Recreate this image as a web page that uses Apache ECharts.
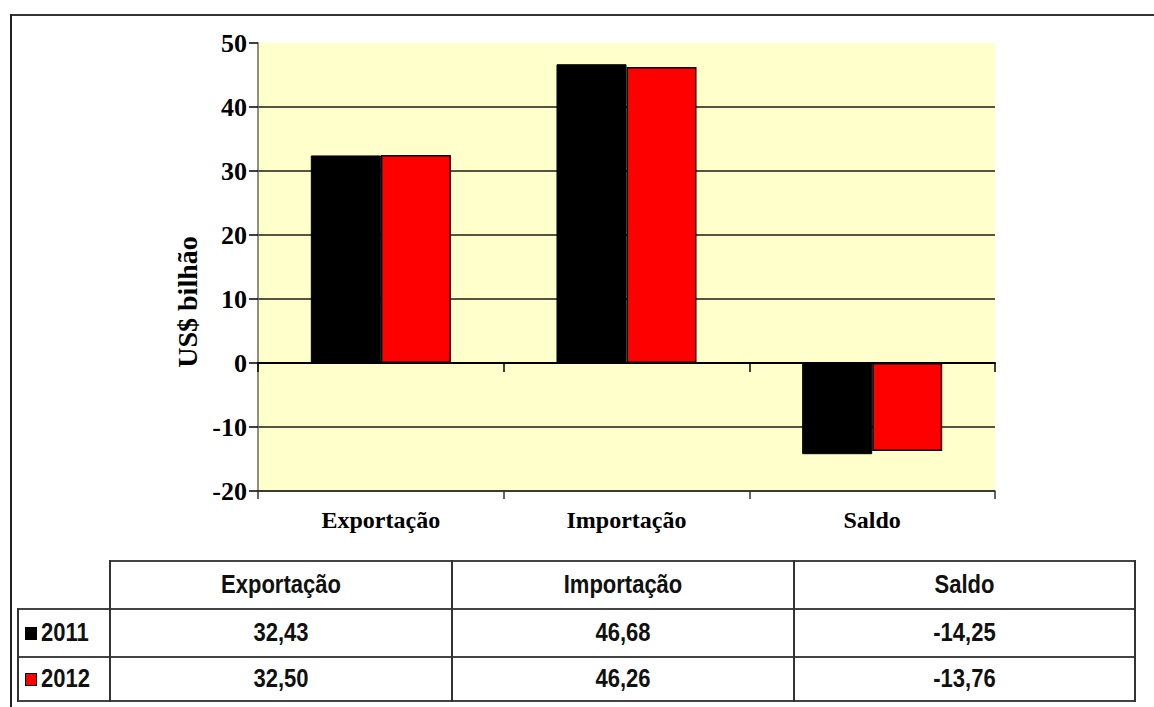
<!DOCTYPE html>
<html>
<head>
<meta charset="utf-8">
<script src="https://cdn.jsdelivr.net/npm/echarts@6/dist/echarts.min.js"></script>
<style>
  html, body { margin: 0; padding: 0; background: #fff; }
  #wrap { position: relative; width: 1154px; height: 707px; overflow: hidden; }
  #chart { position: absolute; left: 0; top: 0; width: 1154px; height: 707px; }
  .frameTop { position: absolute; left: 10px; top: 14px; width: 1144px; height: 2px; background: #333; }
  .frameLeft { position: absolute; left: 10px; top: 14px; width: 2px; height: 693px; background: #222; }
  .cell { position: absolute; box-sizing: border-box; display: flex; align-items: center; justify-content: center;
          font-family: "Liberation Sans", Arial, sans-serif; font-weight: bold; font-size: 22px; color: #111; }
  .cell span.t { display: inline-block; transform: scaleY(1.18); }
  .cell.leg { justify-content: flex-start; padding-left: 7px; }
  .hline { position: absolute; height: 2px; background: #444; }
  .vline { position: absolute; width: 2px; background: #333; }
  .sw { display: inline-block; width: 12px; height: 13px; margin-right: 4px; box-sizing: border-box; border: 1px solid #000; }
</style>
</head>
<body>
<div id="wrap">
  <div id="chart"></div>
  <div class="frameTop"></div>
  <div class="frameLeft"></div>
  <div id="table"></div>
</div>
<script>
// ---- data ----
const categories = ['Exportação', 'Importação', 'Saldo'];
const years = ['2011', '2012'];
const values2011 = [32.43, 46.68, -14.25];
const values2012 = [32.50, 46.26, -13.76];
const yTicks = [-20, -10, 0, 10, 20, 30, 40, 50];
const seriesColors = ['#000000', '#FF0000'];
const yAxisTitle = 'US$ bilhão';

// ---- chart ----
const chart = echarts.init(document.getElementById('chart'), null, { renderer: 'svg' });
const serif = '"Liberation Serif", "Times New Roman", serif';
const gridColors = yTicks.map(function (v, i) { return i === yTicks.length - 1 ? 'rgba(0,0,0,0)' : '#1a1a1a'; });

chart.setOption({
  animation: false,
  backgroundColor: 'transparent',
  grid: { left: 258, top: 43, width: 737, height: 448, show: true, backgroundColor: '#FFFFCC', borderWidth: 0 },
  xAxis: [
    {
      type: 'category', data: categories, position: 'bottom',
      axisLine: { onZero: true, lineStyle: { color: '#000', width: 2 } },
      axisTick: { show: true, length: 9, lineStyle: { color: '#000', width: 1.5 } },
      axisLabel: { show: false }, splitLine: { show: false }
    },
    {
      type: 'category', data: categories, position: 'bottom',
      axisLine: { onZero: false, lineStyle: { color: '#333', width: 1.5 } },
      axisTick: { show: true, length: 8, lineStyle: { color: '#333', width: 1.5 } },
      axisLabel: { show: true, margin: 17, fontFamily: serif, fontWeight: 'bold', fontSize: 24, color: '#000' },
      splitLine: { show: false }
    }
  ],
  yAxis: {
    type: 'value', min: yTicks[0], max: yTicks[yTicks.length - 1], interval: 10,
    axisLine: { show: true, onZero: false, lineStyle: { color: '#6b6b4f', width: 1.5 } },
    axisTick: { show: true, length: 9, lineStyle: { color: '#000', width: 1.5 } },
    axisLabel: { margin: 11, fontFamily: serif, fontWeight: 'bold', fontSize: 26, color: '#000' },
    splitLine: { show: true, lineStyle: { color: gridColors, width: 1.5 } }
  },
  graphic: [
    {
      type: 'text', x: 187, y: 302, rotation: Math.PI / 2,
      style: { text: yAxisTitle, font: 'bold 28px ' + serif, fill: '#000', align: 'center', verticalAlign: 'middle' }
    }
  ],
  series: [
    {
      name: years[0], type: 'bar', xAxisIndex: 0, data: values2011,
      barWidth: '28.5%', barGap: '0%',
      itemStyle: { color: seriesColors[0], borderColor: '#000', borderWidth: 1 }
    },
    {
      name: years[1], type: 'bar', xAxisIndex: 0, data: values2012,
      barWidth: '28.5%', barGap: '0%',
      itemStyle: { color: seriesColors[1], borderColor: '#000', borderWidth: 1.5 }
    }
  ]
});

// ---- data table below the chart ----
function fmt(v) { return v.toFixed(2).replace('.', ','); }
const table = document.getElementById('table');
const colX = [18, 110, 452, 794, 1135];
const rowY = [561, 609, 657, 701];
function addCell(x0, x1, y0, y1, html, cls) {
  const d = document.createElement('div');
  d.className = 'cell' + (cls ? ' ' + cls : '');
  d.style.left = x0 + 'px'; d.style.top = y0 + 'px';
  d.style.width = (x1 - x0) + 'px'; d.style.height = (y1 - y0) + 'px';
  d.innerHTML = html;
  table.appendChild(d);
}
function hline(x0, x1, y) {
  const d = document.createElement('div'); d.className = 'hline';
  d.style.left = x0 + 'px'; d.style.top = (y - 1) + 'px'; d.style.width = (x1 - x0 + 1) + 'px';
  table.appendChild(d);
}
function vline(x, y0, y1) {
  const d = document.createElement('div'); d.className = 'vline';
  d.style.left = (x - 1) + 'px'; d.style.top = (y0 - 1) + 'px'; d.style.height = (y1 - y0 + 2) + 'px';
  table.appendChild(d);
}
// header
categories.forEach(function (c, i) { addCell(colX[i + 1], colX[i + 2], rowY[0], rowY[1], '<span class="t">' + c + '</span>'); });
const rows = [values2011, values2012];
rows.forEach(function (vals, r) {
  addCell(colX[0], colX[1], rowY[r + 1], rowY[r + 2],
    '<span class="sw" style="background:' + seriesColors[r] + '"></span><span class="t">' + years[r] + '</span>', 'leg');
  vals.forEach(function (v, i) { addCell(colX[i + 1], colX[i + 2], rowY[r + 1], rowY[r + 2], '<span class="t">' + fmt(v) + '</span>'); });
});
// borders
hline(colX[1], colX[4], rowY[0]);
hline(colX[0], colX[4], rowY[1]);
hline(colX[0], colX[4], rowY[2]);
hline(colX[0], colX[4], rowY[3]);
vline(colX[0], rowY[1], rowY[3]);
vline(colX[1], rowY[0], rowY[3]);
vline(colX[2], rowY[0], rowY[3]);
vline(colX[3], rowY[0], rowY[3]);
vline(colX[4], rowY[0], rowY[3]);
</script>
</body>
</html>
